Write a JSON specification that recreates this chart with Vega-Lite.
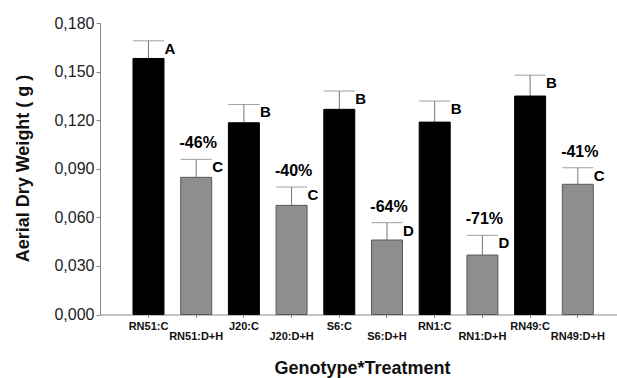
{
  "$schema": "https://vega.github.io/schema/vega-lite/v6.json",
  "autosize": "none",
  "width": 517,
  "height": 291.5,
  "padding": {"left": 100, "top": 23, "right": 0, "bottom": 63.5},
  "background": "white",
  "config": {"view": {"stroke": null}, "font": "Liberation Sans"},
  "data": {"values": [
    {"g": "RN51:C", "v": 0.1581, "err": 0.1690, "letter": "A", "pct": "", "trt": "C"},
    {"g": "RN51:D+H", "v": 0.0847, "err": 0.0958, "letter": "C", "pct": "-46%", "trt": "D+H"},
    {"g": "J20:C", "v": 0.1184, "err": 0.1297, "letter": "B", "pct": "", "trt": "C"},
    {"g": "J20:D+H", "v": 0.0674, "err": 0.0787, "letter": "C", "pct": "-40%", "trt": "D+H"},
    {"g": "S6:C", "v": 0.1267, "err": 0.1380, "letter": "B", "pct": "", "trt": "C"},
    {"g": "S6:D+H", "v": 0.0460, "err": 0.0567, "letter": "D", "pct": "-64%", "trt": "D+H"},
    {"g": "RN1:C", "v": 0.1188, "err": 0.1318, "letter": "B", "pct": "", "trt": "C"},
    {"g": "RN1:D+H", "v": 0.0367, "err": 0.0489, "letter": "D", "pct": "-71%", "trt": "D+H"},
    {"g": "RN49:C", "v": 0.1349, "err": 0.1478, "letter": "B", "pct": "", "trt": "C"},
    {"g": "RN49:D+H", "v": 0.0804, "err": 0.0906, "letter": "C", "pct": "-41%", "trt": "D+H"}
  ]},
  "encoding": {
    "x": {
      "field": "g", "type": "nominal", "sort": null,
      "scale": {"paddingInner": 0.35, "paddingOuter": 0.594, "align": 0.582},
      "axis": {
        "title": "Genotype*Treatment",
        "titleFont": "Liberation Sans", "titleFontSize": 18, "titleFontWeight": "bold", "titleColor": "#111",
        "titleBaseline": "middle", "titleY": 54, "titleX": 262,
        "labelAngle": 0,
        "labelFont": "Liberation Sans", "labelFontSize": 11, "labelFontWeight": "bold", "labelColor": "#111",
        "labelPadding": {"condition": {"test": "indexof(['RN51:D+H','J20:D+H','S6:D+H','RN1:D+H','RN49:D+H'], datum.value) >= 0", "value": 13}, "value": 3},
        "domainColor": "#888", "tickColor": "#888", "tickSize": 3, "grid": false
      }
    }
  },
  "layer": [
    {
      "mark": {"type": "rule", "color": "#777", "strokeWidth": 1},
      "encoding": {
        "y": {"field": "v", "type": "quantitative"},
        "y2": {"field": "err"}
      }
    },
    {
      "mark": {"type": "tick", "color": "#777", "size": 31, "thickness": 1},
      "encoding": {
        "y": {"field": "err", "type": "quantitative"}
      }
    },
    {
      "mark": {"type": "bar", "width": 31, "strokeWidth": 1},
      "encoding": {
        "y": {
          "field": "v", "type": "quantitative",
          "scale": {"domain": [0, 0.18], "nice": false, "zero": true},
          "axis": {
            "title": "Aerial Dry Weight ( g )",
            "titleFont": "Liberation Sans", "titleFontSize": 18, "titleFontWeight": "bold", "titleColor": "#111",
            "titleBaseline": "middle", "titleX": -77, "titleY": 145, "titleAngle": 270,
            "values": [0, 0.03, 0.06, 0.09, 0.12, 0.15, 0.18],
            "labelExpr": "replace(format(datum.value, '.3f'), '.', ',')",
            "labelFont": "Liberation Sans", "labelFontSize": 16, "labelColor": "#222", "labelPadding": 2,
            "domainColor": "#888", "tickColor": "#888", "tickSize": 4, "grid": false
          }
        },
        "color": {"field": "trt", "type": "nominal", "scale": {"domain": ["C", "D+H"], "range": ["#000000", "#8e8e8e"]}, "legend": null},
        "stroke": {"field": "trt", "type": "nominal", "scale": {"domain": ["C", "D+H"], "range": ["#000000", "#5a5a5a"]}, "legend": null}
      }
    },
    {
      "mark": {"type": "text", "align": "left", "baseline": "top", "dx": 16, "dy": 1, "font": "Liberation Sans", "fontSize": 15, "fontWeight": "bold", "color": "#000"},
      "encoding": {
        "y": {"field": "err", "type": "quantitative"},
        "text": {"field": "letter"}
      }
    },
    {
      "mark": {"type": "text", "align": "center", "baseline": "alphabetic", "dx": 2, "dy": -11, "font": "Liberation Sans", "fontSize": 16, "fontWeight": "bold", "color": "#000"},
      "encoding": {
        "y": {"field": "err", "type": "quantitative"},
        "text": {"field": "pct"}
      }
    }
  ]
}
